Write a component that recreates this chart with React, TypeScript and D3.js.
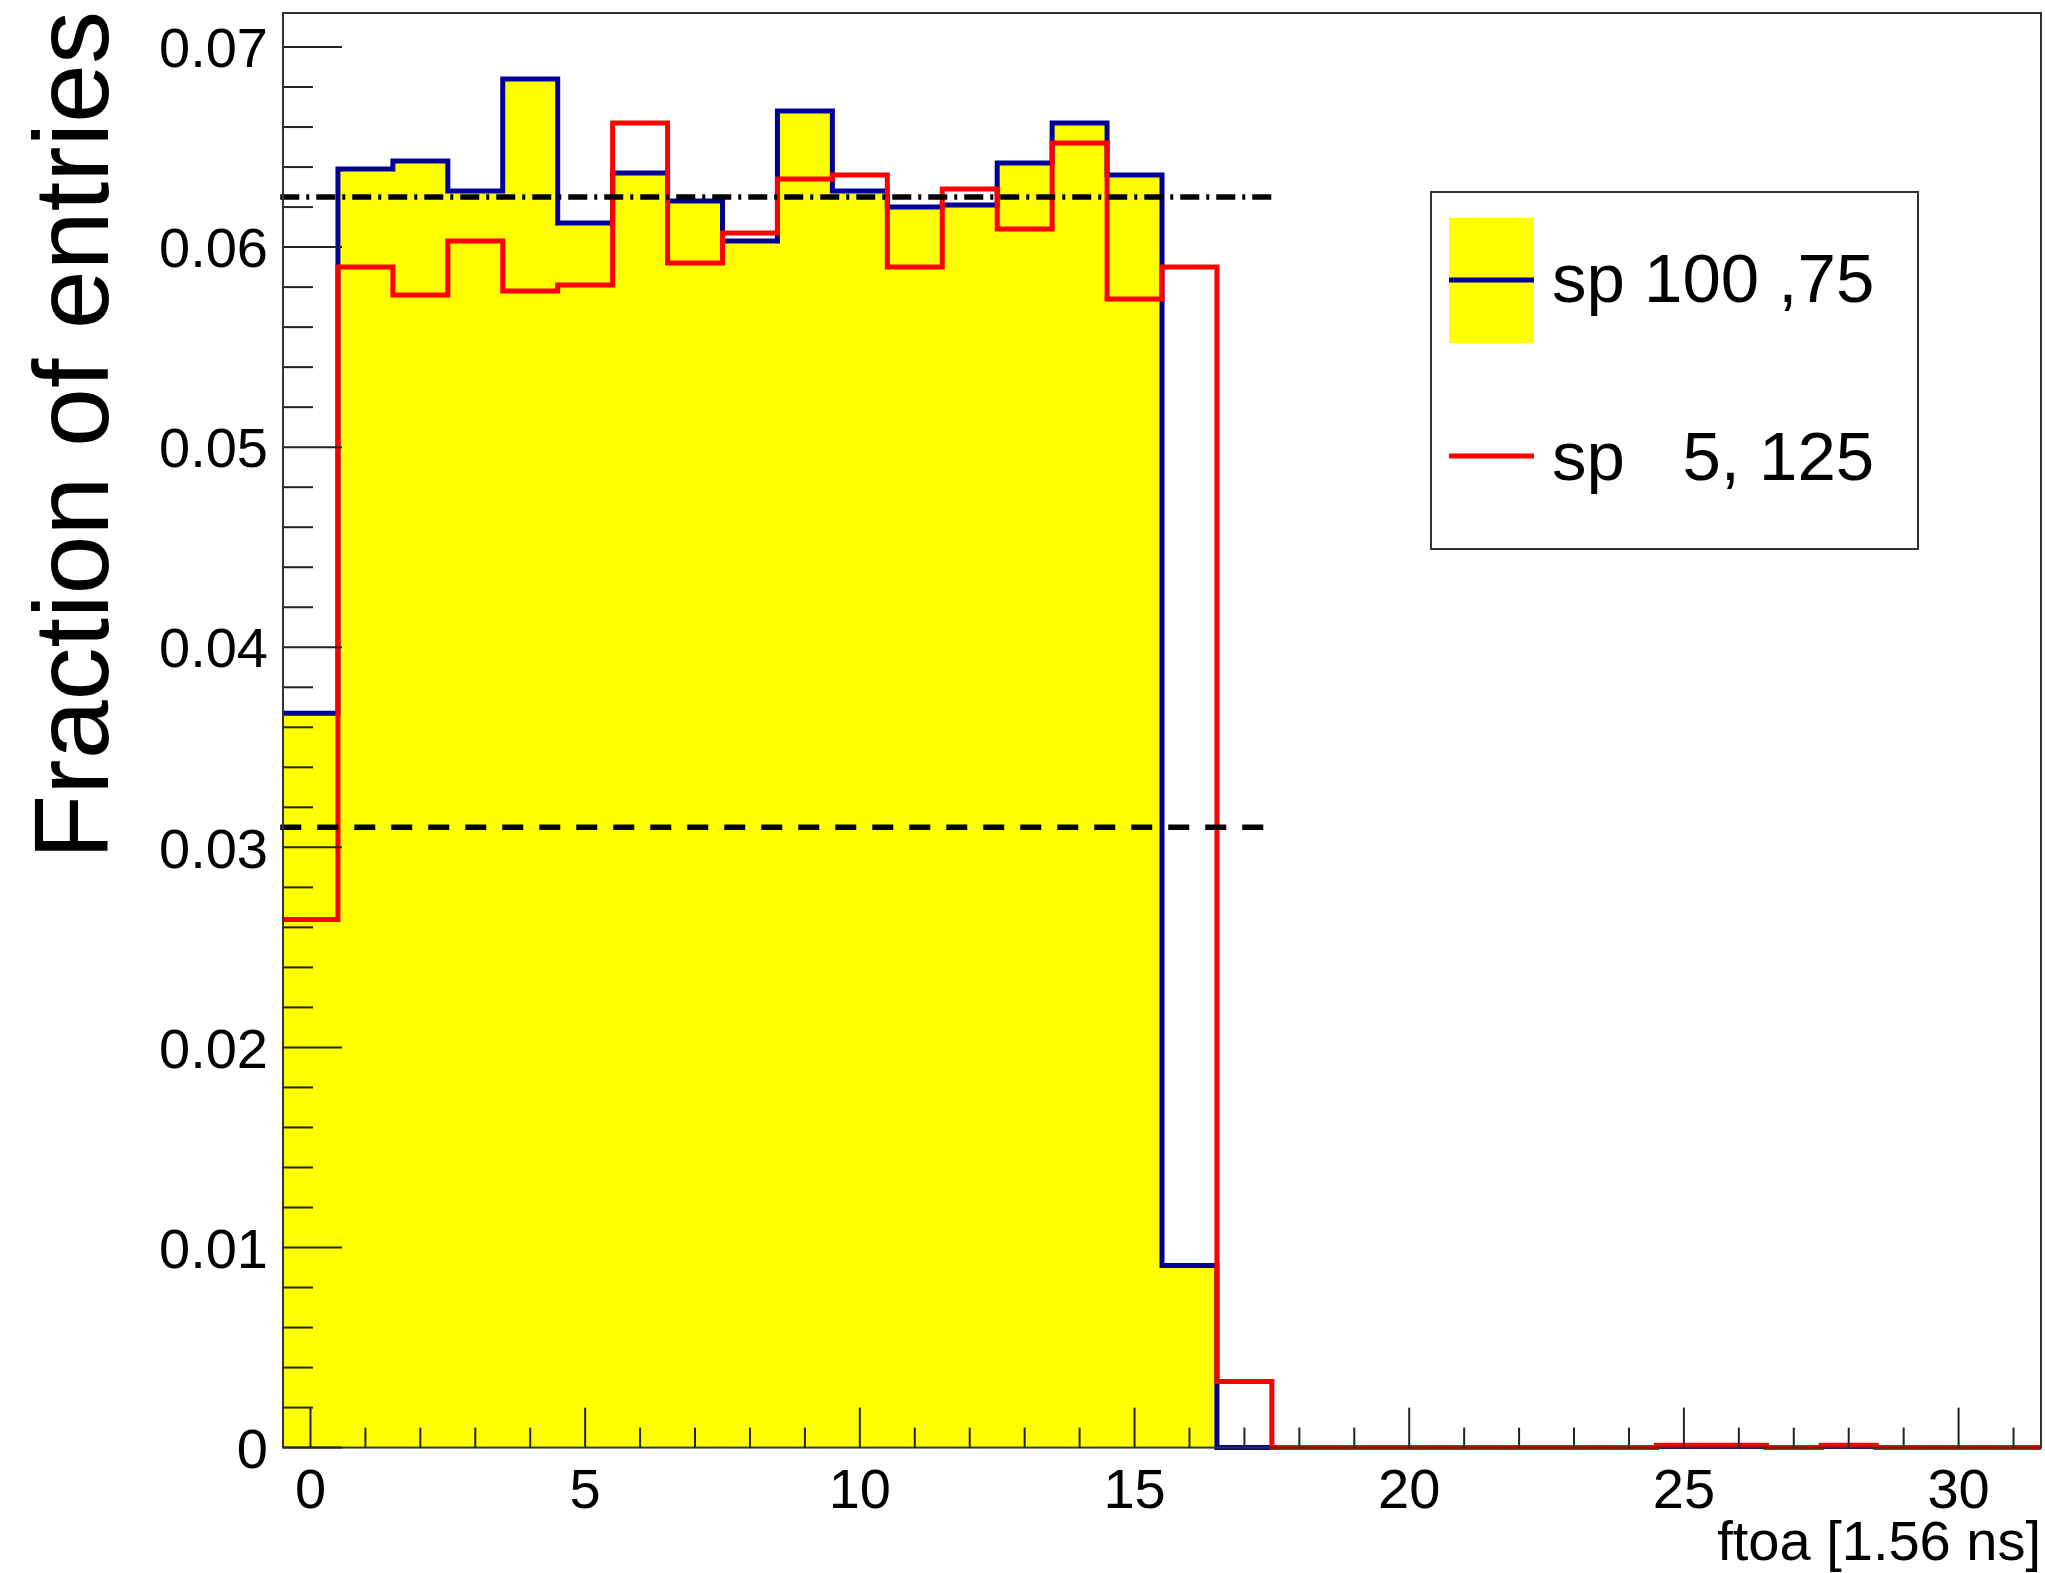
import React from "react";
import * as d3 from "d3";

// ---- Data ----
const binCenters: number[] = d3.range(0, 32); // ftoa bins 0..31, width 1
const sp100_75: number[] = [
  0.0367, 0.0639, 0.0643, 0.0628, 0.0684, 0.0612, 0.0637, 0.0623, 0.0603, 0.0668,
  0.0628, 0.0620, 0.0621, 0.0642, 0.0662, 0.0636, 0.0091, 0, 0, 0,
  0, 0, 0, 0, 0, 0.00005, 0.00005, 0, 0.00005, 0,
  0, 0,
];
const sp5_125: number[] = [
  0.0264, 0.0590, 0.0576, 0.0603, 0.0578, 0.0581, 0.0662, 0.0592, 0.0607, 0.0634,
  0.0636, 0.0590, 0.0629, 0.0609, 0.0652, 0.0574, 0.0590, 0.0033, 0, 0,
  0, 0, 0, 0, 0, 0.00012, 0.00012, 0, 0.00012, 0,
  0, 0,
];
const refLines: { value: number; dash: string }[] = [
  { value: 0.0625, dash: "19 7 3 7" },
  { value: 0.031, dash: "21 16" },
];
const refLineRange: [number, number] = [-0.55, 17.55];
const xTickLabels: number[] = [0, 5, 10, 15, 20, 25, 30];
const yTickLabels: number[] = [0, 0.01, 0.02, 0.03, 0.04, 0.05, 0.06, 0.07];
const legendLabels: string[] = ["sp 100 ,75", "sp   5, 125"];
const xTitle = "ftoa [1.56 ns]";
const yTitle = "Fraction of entries";

const W = 2045;
const H = 1573;
const FONT = "'Liberation Sans', Arial, Helvetica, sans-serif";

export default function App() {
  const left = 283, right = 2041, top = 13, bottom = 1447.6;
  const x = d3.scaleLinear().domain([-0.5, 31.5]).range([left, right]);
  const y = d3.scaleLinear().domain([0, 0.0717]).range([bottom, top]);

  const stepPts = (vals: number[]) => {
    const pts: [number, number][] = vals.map((v, i) => [binCenters[i] - 0.5, v]);
    pts.push([binCenters[binCenters.length - 1] + 0.5, vals[vals.length - 1]]);
    return pts;
  };
  const line = d3
    .line<[number, number]>()
    .x((d) => x(d[0]))
    .y((d) => y(d[1]))
    .curve(d3.curveStepAfter);
  const area = d3
    .area<[number, number]>()
    .x((d) => x(d[0]))
    .y0(y(0))
    .y1((d) => y(d[1]))
    .curve(d3.curveStepAfter);

  const bluePts = stepPts(sp100_75);
  const redPts = stepPts(sp5_125);

  const yMinor = d3.range(0, 0.0717, 0.002);
  const xMinor = d3.range(0, 32, 1);

  return (
    <svg
      width={W}
      height={H}
      style={{ position: "absolute", left: 0, top: 0, background: "#fff" }}
      fontFamily={FONT}
    >
      <rect x={0} y={0} width={W} height={H} fill="#fff" />
      {/* histogram fill + outlines */}
      <path d={area(bluePts) || ""} fill="#ffff00" stroke="none" />
      <path d={line(bluePts) || ""} fill="none" stroke="#000099" strokeWidth={5} />
      <path d={line(redPts) || ""} fill="none" stroke="#ff0000" strokeWidth={5} />

      {/* reference lines */}
      {refLines.map((r, i) => (
        <line
          key={i}
          x1={x(refLineRange[0])}
          x2={x(refLineRange[1])}
          y1={y(r.value)}
          y2={y(r.value)}
          stroke="#000"
          strokeWidth={5.5}
          strokeDasharray={r.dash}
        />
      ))}

      {/* frame */}
      <rect
        x={left}
        y={top}
        width={right - left}
        height={bottom - top}
        fill="none"
        stroke="#333"
        strokeWidth={2}
      />

      {/* y ticks */}
      {yMinor.map((v, i) => {
        const major = Math.abs(v / 0.01 - Math.round(v / 0.01)) < 1e-6;
        return (
          <line
            key={"ym" + i}
            x1={left}
            x2={left + (major ? 59 : 30)}
            y1={y(v)}
            y2={y(v)}
            stroke="#222"
            strokeWidth={2}
          />
        );
      })}
      {yTickLabels.map((v, i) => (
        <text
          key={"yl" + i}
          x={268}
          y={y(v)}
          dy="0.36em"
          textAnchor="end"
          fontSize={56}
          fill="#000"
        >
          {v === 0 ? "0" : v.toFixed(2)}
        </text>
      ))}

      {/* x ticks */}
      {xMinor.map((v, i) => {
        const major = v % 5 === 0;
        return (
          <line
            key={"xm" + i}
            x1={x(v)}
            x2={x(v)}
            y1={bottom}
            y2={bottom - (major ? 40 : 20)}
            stroke="#222"
            strokeWidth={2}
          />
        );
      })}
      {xTickLabels.map((v, i) => (
        <text
          key={"xl" + i}
          x={x(v)}
          y={1508}
          textAnchor="middle"
          fontSize={56}
          fill="#000"
        >
          {v}
        </text>
      ))}

      {/* axis titles */}
      <text x={2041} y={1560} textAnchor="end" fontSize={56} fill="#000">
        {xTitle}
      </text>
      <text
        transform="translate(108,11) rotate(-90)"
        textAnchor="end"
        fontSize={106}
        fill="#000"
      >
        {yTitle}
      </text>

      {/* legend */}
      <rect x={1431} y={192} width={487} height={357} fill="#fff" stroke="#333" strokeWidth={2} />
      <rect x={1449} y={218} width={85} height={125} fill="#ffff00" />
      <line x1={1449} x2={1534} y1={280} y2={280} stroke="#000099" strokeWidth={5} />
      <text x={1552} y={302} fontSize={69} fill="#000" style={{ whiteSpace: "pre" }}>
        {legendLabels[0]}
      </text>
      <line x1={1449} x2={1534} y1={456} y2={456} stroke="#ff0000" strokeWidth={5} />
      <text x={1552} y={480} fontSize={69} fill="#000" style={{ whiteSpace: "pre" }}>
        {legendLabels[1]}
      </text>
    </svg>
  );
}
